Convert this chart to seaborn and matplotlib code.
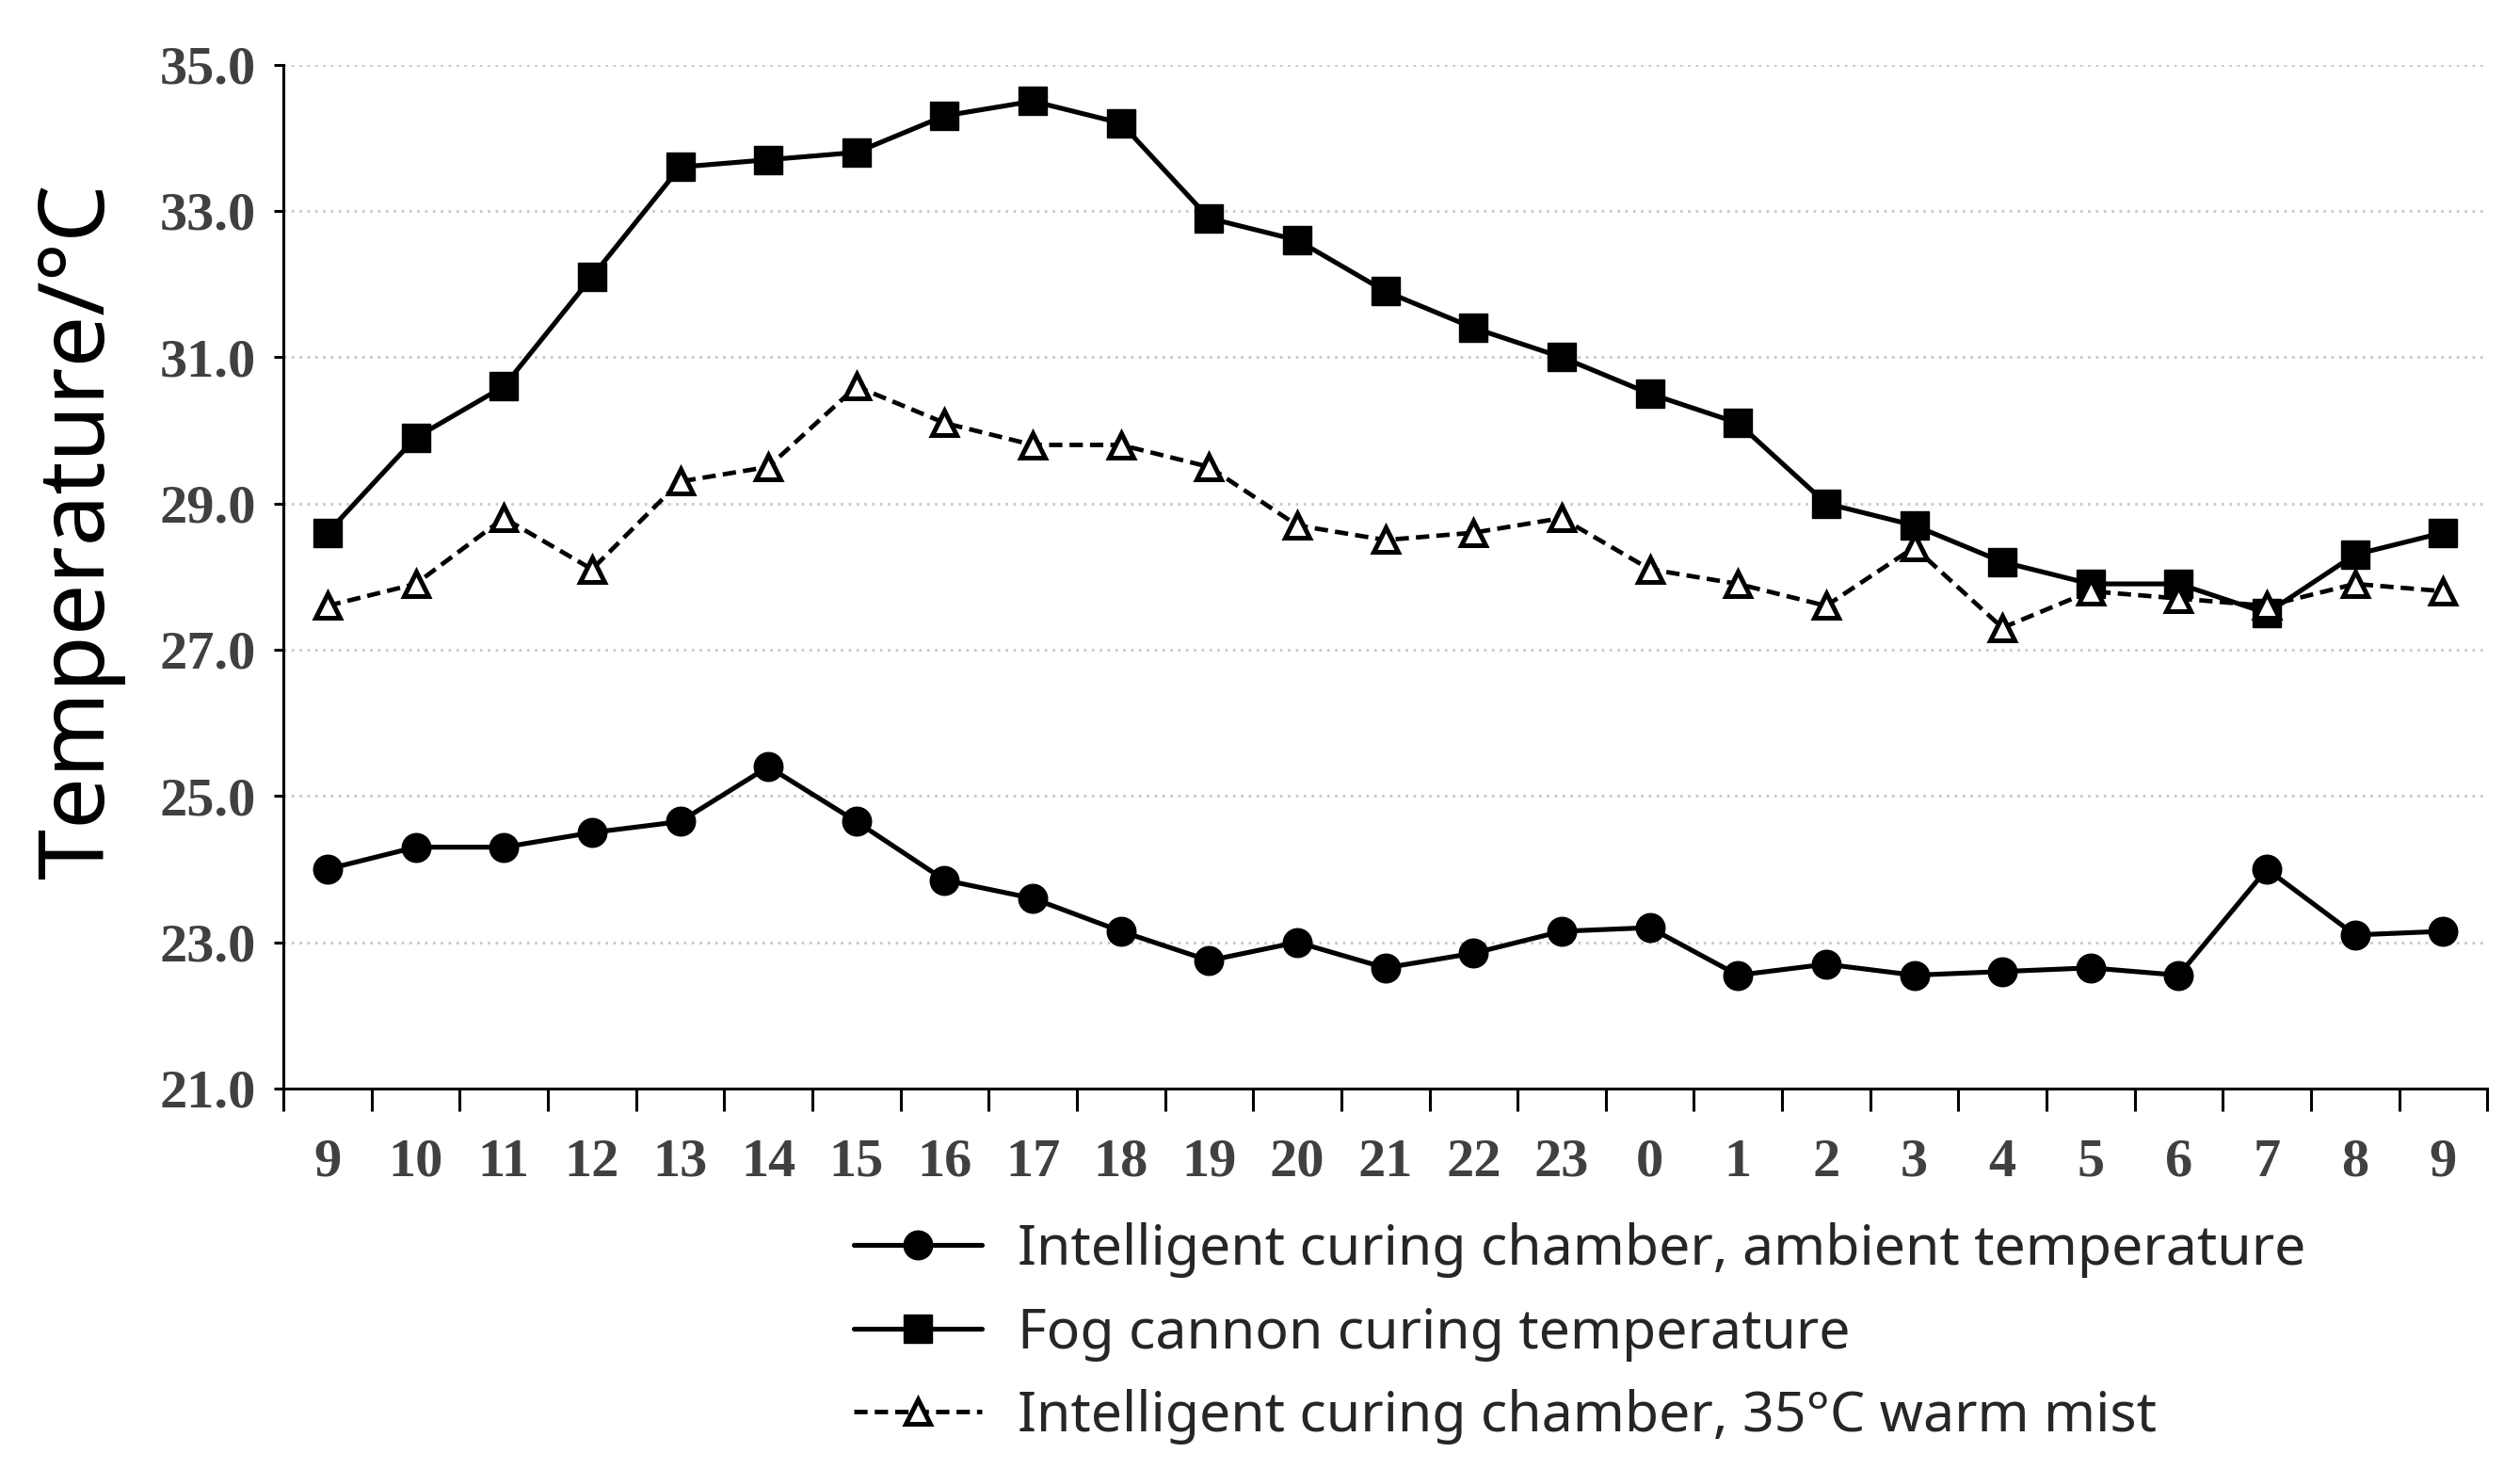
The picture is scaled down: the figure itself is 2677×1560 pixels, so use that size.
import matplotlib
matplotlib.use("Agg")
import matplotlib.pyplot as plt
import numpy as np
import pandas as pd
import seaborn as sns

# hours of the test, 9 o'clock to 9 o'clock next day
hours = ["9", "10", "11", "12", "13", "14", "15", "16", "17", "18", "19", "20",
         "21", "22", "23", "0", "1", "2", "3", "4", "5", "6", "7", "8", "9"]

ambient = [24.0, 24.3, 24.3, 24.5, 24.65, 25.4, 24.65, 23.85, 23.6, 23.15, 22.75, 23.0,
           22.65, 22.85, 23.15, 23.2, 22.55, 22.7, 22.55, 22.6, 22.65, 22.55, 24.0, 23.1, 23.15]

fog_cannon = [28.6, 29.9, 30.6, 32.1, 33.6, 33.7, 33.8, 34.3, 34.5, 34.2, 32.9, 32.6,
              31.9, 31.4, 31.0, 30.5, 30.1, 29.0, 28.7, 28.2, 27.9, 27.9, 27.5, 28.3, 28.6]

warm_mist = [27.6, 27.9, 28.8, 28.1, 29.3, 29.5, 30.6, 30.1, 29.8, 29.8, 29.5, 28.7,
             28.5, 28.6, 28.8, 28.1, 27.9, 27.6, 28.4, 27.3, 27.8, 27.7, 27.6, 27.9, 27.8]

y_ticks = [21.0, 23.0, 25.0, 27.0, 29.0, 31.0, 33.0, 35.0]

labels = ["Intelligent curing chamber, ambient temperature",
          "Fog cannon curing temperature",
          "Intelligent curing chamber, 35°C warm mist"]

df = pd.DataFrame({"pos": np.arange(len(hours)), "hour": hours,
                   "ambient": ambient, "fog": fog_cannon, "mist": warm_mist})

sns.set_theme(style="white")
plt.rcParams["font.family"] = ["Noto Sans", "DejaVu Sans"]

fig, ax = plt.subplots(figsize=(26.77, 15.6), dpi=100)
fig.subplots_adjust(left=0.1125, right=0.987, top=0.956, bottom=0.259)

sns.lineplot(data=df, x="pos", y="ambient", ax=ax, color="black", linewidth=3.7,
             marker="o", markersize=22, mec="black", mew=1, label=labels[0])
sns.lineplot(data=df, x="pos", y="fog", ax=ax, color="black", linewidth=3.7,
             marker="s", markersize=21, mec="black", mew=1, label=labels[1])
sns.lineplot(data=df, x="pos", y="mist", ax=ax, color="black", linewidth=3.4,
             linestyle=(0, (3, 1.6)), marker="^", markersize=19,
             markerfacecolor="white", mec="black", mew=3.6, label=labels[2])

ax.set_xlim(-0.5, len(hours) - 0.5)
ax.set_ylim(21, 35)
ax.set_yticks(y_ticks)
ax.set_yticklabels([f"{t:.1f}" for t in y_ticks])
ax.set_xticks(df["pos"])
ax.set_xticklabels(hours)
ax.set_xticks(np.arange(-0.5, len(hours), 1), minor=True)

for lab in ax.get_xticklabels() + ax.get_yticklabels():
    lab.set_fontfamily("Liberation Serif")
    lab.set_fontweight("bold")
    lab.set_fontsize(42)
    lab.set_color("#404040")

ax.tick_params(axis="x", which="major", length=0, pad=38)
ax.tick_params(axis="x", which="minor", bottom=True, length=17, width=2.2, color="black")
ax.tick_params(axis="y", left=True, length=7, width=2.2, color="black", pad=14)

for side in ["top", "right"]:
    ax.spines[side].set_visible(False)
for side in ["left", "bottom"]:
    ax.spines[side].set_color("black")
    ax.spines[side].set_linewidth(2.2)

for t in y_ticks[1:]:
    ax.axhline(t, color="#c8c8c8", linestyle=(0, (1, 2)), linewidth=2, zorder=0)

ax.set_xlabel("")
ax.set_ylabel("Temperature/°C", fontsize=70, color="black")
ax.yaxis.set_label_coords(-0.072, 0.545)

ax.legend(loc="upper left", bbox_to_anchor=(0.33, 0.183), bbox_transform=fig.transFigure,
          frameon=False, fontsize=42.5, handlelength=2.3, handletextpad=0.65,
          labelspacing=0.5, borderaxespad=0)

fig.savefig("out.png", dpi=100)
